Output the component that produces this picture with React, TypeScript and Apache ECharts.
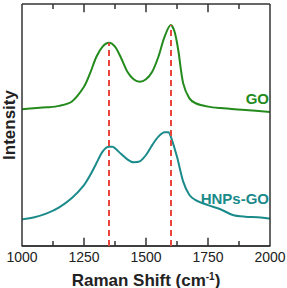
import React, { useEffect, useRef } from "react";
import * as echarts from "echarts";

const shiftsGO = [1000, 1100, 1150, 1200, 1250, 1275, 1300, 1325, 1350, 1375, 1400, 1425, 1450, 1475, 1500, 1525, 1550, 1575, 1600, 1615, 1630, 1650, 1675, 1700, 1750, 1800, 1900, 2000];
const intensityGO = [56.5, 57.3, 57.9, 59.6, 65.8, 71.5, 78.2, 82.4, 84.0, 82.4, 77.6, 72.0, 68.9, 67.9, 68.9, 72.0, 78.2, 86.5, 91.3, 88.6, 81.0, 67.2, 61.0, 59.0, 57.6, 57.0, 56.2, 55.4];

const shiftsHNP = [1000, 1050, 1100, 1150, 1200, 1250, 1275, 1300, 1325, 1350, 1365, 1375, 1400, 1425, 1450, 1475, 1500, 1525, 1550, 1575, 1590, 1600, 1625, 1650, 1675, 1700, 1750, 1800, 1850, 1900, 1950, 2000];
const intensityHNP = [11.0, 11.9, 13.5, 16.0, 19.7, 25.2, 29.3, 34.2, 39.0, 41.0, 41.0, 40.4, 38.0, 35.8, 34.6, 35.0, 37.6, 41.7, 45.2, 47.0, 47.0, 45.2, 36.9, 26.6, 21.1, 19.0, 16.9, 15.2, 12.8, 12.1, 11.9, 11.3];

const peakShifts = [1350, 1600];
const peakTops = [84.0, 91.3];

const xRange = { min: 1000, max: 2000, interval: 250 };
const yRange = { min: 0, max: 100 };
const majorTicks = [1250, 1500, 1750];
const minorTicks = [1125, 1375, 1625, 1875];

const GREEN = "#238a1c";
const TEAL = "#1b8a8a";
const RED = "#e8453c";
const AXIS = "#333";
const FONT = "Liberation Sans, Arial, sans-serif";

// tick lengths in y-data units (plot height spans 100 units)
const MAJOR_LEN = 3.4;
const MINOR_LEN = 2.1;

export default function App() {
  const ref = useRef<HTMLDivElement>(null);
  useEffect(() => {
    if (!ref.current) return;
    const chart = echarts.init(ref.current, null, { renderer: "svg" });

    const seg = (x1: number, y1: number, x2: number, y2: number) => [
      { coord: [x1, y1] },
      { coord: [x2, y2] },
    ];
    const frameLines = [
      seg(xRange.min, yRange.min, xRange.max, yRange.min),
      seg(xRange.min, yRange.max, xRange.max, yRange.max),
      seg(xRange.min, yRange.min, xRange.min, yRange.max),
      seg(xRange.max, yRange.min, xRange.max, yRange.max),
      ...majorTicks.map((t) => seg(t, yRange.min, t, yRange.min + MAJOR_LEN)),
      ...majorTicks.map((t) => seg(t, yRange.max, t, yRange.max - MAJOR_LEN)),
      ...minorTicks.map((t) => seg(t, yRange.min, t, yRange.min + MINOR_LEN)),
      ...minorTicks.map((t) => seg(t, yRange.max, t, yRange.max - MINOR_LEN)),
    ];

    chart.setOption({
      animation: false,
      backgroundColor: "#fff",
      grid: { left: 22, right: 17, top: 4, bottom: 42, outerBoundsMode: "none" },
      xAxis: {
        type: "value",
        min: xRange.min,
        max: xRange.max,
        interval: xRange.interval,
        position: "bottom",
        axisLine: { show: true, onZero: false, lineStyle: { color: AXIS, width: 1.5 } },
        axisTick: { show: false },
        splitLine: { show: false },
        axisLabel: {
          color: "#222",
          fontSize: 14,
          fontFamily: FONT,
          margin: 4,
          formatter: (v: number) => String(v),
        },
        name: "{a|Raman Shift (cm}{b|-1}{a|)}",
        nameLocation: "middle",
        nameGap: 25,
        nameTextStyle: {
          rich: {
            a: { fontSize: 17, fontWeight: "bold", color: "#222", fontFamily: FONT },
            b: {
              fontSize: 10,
              fontWeight: "bold",
              color: "#222",
              fontFamily: FONT,
              verticalAlign: "top",
              padding: [0, 0, 8, 0],
            },
          },
        },
      },
      yAxis: {
        type: "value",
        min: yRange.min,
        max: yRange.max,
        axisLine: { show: false },
        axisTick: { show: false },
        axisLabel: { show: false },
        splitLine: { show: false },
        name: "Intensity",
        nameLocation: "middle",
        nameGap: 4,
        nameTextStyle: { fontSize: 17, fontWeight: "bold", color: "#222", fontFamily: FONT },
      },
      series: [
        {
          type: "line",
          name: "GO",
          data: shiftsGO.map((x, i) => [x, intensityGO[i]]),
          showSymbol: false,
          smooth: 0.3,
          lineStyle: { color: GREEN, width: 2 },
          endLabel: {
            show: true,
            formatter: "GO",
            color: GREEN,
            fontSize: 15,
            fontWeight: "bold",
            fontFamily: FONT,
            align: "right",
            offset: [-9, -13],
          },
        },
        {
          type: "line",
          name: "HNPs-GO",
          data: shiftsHNP.map((x, i) => [x, intensityHNP[i]]),
          showSymbol: false,
          smooth: 0.3,
          lineStyle: { color: TEAL, width: 2 },
          endLabel: {
            show: true,
            formatter: "HNPs-GO",
            color: TEAL,
            fontSize: 15,
            fontWeight: "bold",
            fontFamily: FONT,
            align: "right",
            offset: [-9, -20],
          },
        },
        {
          type: "line",
          name: "frame",
          data: [],
          z: 4,
          clip: false,
          markLine: {
            silent: true,
            symbol: ["none", "none"],
            label: { show: false },
            emphasis: { disabled: true },
            lineStyle: { color: AXIS, width: 1.5, type: "solid" },
            data: frameLines,
          },
        },
        {
          type: "line",
          name: "peaks",
          data: [],
          z: 5,
          markLine: {
            silent: true,
            symbol: ["none", "none"],
            label: { show: false },
            lineStyle: { color: RED, width: 2, type: [6, 4] },
            data: peakShifts.map((p, i) => seg(p, yRange.min, p, peakTops[i])),
          },
        },
      ],
    });
    return () => chart.dispose();
  }, []);
  return <div ref={ref} style={{ width: 287, height: 288, position: "absolute", left: 0, top: 0 }} />;
}
